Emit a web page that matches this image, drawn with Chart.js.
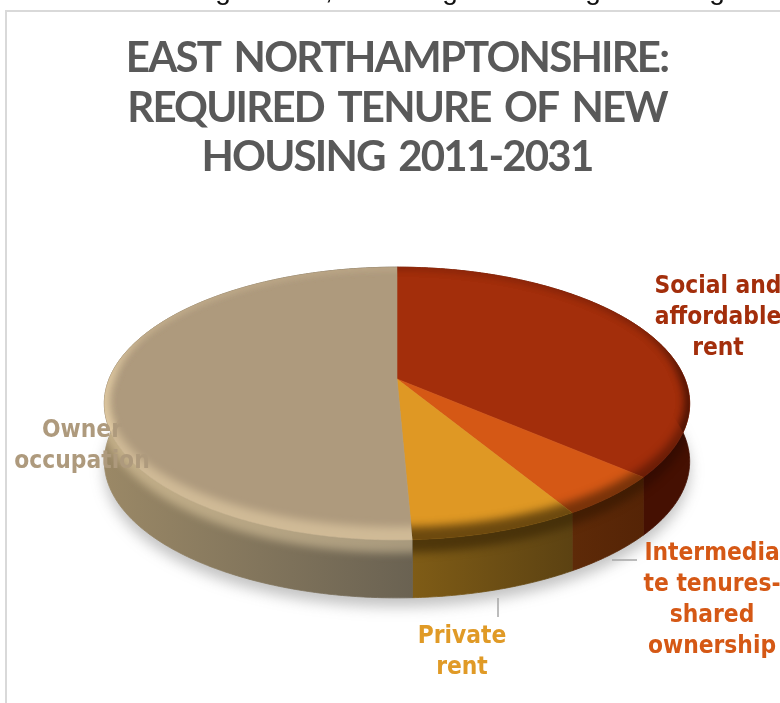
<!DOCTYPE html>
<html>
<head>
<meta charset="utf-8">
<style>
  html, body { margin: 0; padding: 0; background: #fff; overflow: hidden; }
  #wrap { position: relative; width: 780px; height: 703px; overflow: hidden; }
  #chart { position: absolute; left: 0; top: 0; }
  #frame { position: absolute; left: 5px; top: 10px; width: 800px; height: 720px;
           border-left: 2px solid #d9d9d9; border-top: 2px solid #d9d9d9; }
</style>
</head>
<body>
<div id="wrap">
  <canvas id="chart" width="780" height="703"></canvas>
  <div id="frame"></div>
</div>
<script src="https://cdn.jsdelivr.net/npm/chart.js@4"></script>
<script>
var titleLines = ['EAST NORTHAMPTONSHIRE:', 'REQUIRED TENURE OF NEW', 'HOUSING 2011-2031'];
var categories = ['Social and affordable rent', 'Intermediate tenures-shared ownership', 'Private rent', 'Owner occupation'];
var shares = [36.4, 5.0, 7.9, 50.7];
var sliceColors = ['#a32e0b', '#d55815', '#df9824', '#ae9a7d'];
var wallColors = [
    ['#5c1a06', '#451002'],
    ['#5e2a08', '#552406'],
    ['#7f5c16', '#5c4212'],
    ['#9a8866', '#6a6252']
];
var rimColors = ['rgba(30,5,0,0.42)', 'rgba(45,20,0,0.55)', 'rgba(60,40,5,0.7)', 'rgba(255,232,185,0.42)'];
var labelLines = [
    ['Social and', 'affordable', 'rent'],
    ['Intermedia', 'te tenures-', 'shared', 'ownership'],
    ['Private', 'rent'],
    ['Owner', 'occupation']
];
var labelCenters = [[718, 293], [712, 560], [462, 643], [82, 437]];
var labelColors = ['#a32e0b', '#d55815', '#e09a26', '#ae9a7d'];
var leaderLines = [[612, 560, 637, 560], [498, 598, 498, 617]];
// tail ends of the running text that sits above the chart frame
var pageGlyphs = ['g', ',', 'g', 'g', 'g'];
var pageGlyphX = [223, 329, 450, 593, 717];

// tilted disc: how the flat pie is stretched and foreshortened
var tilt = { xScale: 1.523, yScale: 0.698, perspective: 0.18, depth: 58 };

function project(arc, angle, r) {
    var u = Math.cos(angle) * r, v = Math.sin(angle) * r;
    var s = 1 / (1 - tilt.perspective * v);
    return {
        x: arc.x + arc.outerRadius * tilt.xScale * u * s,
        y: arc.y + arc.outerRadius * tilt.yScale * v * s
    };
}

function tracePath(ctx, arc, from, to, r, dy, first) {
    var steps = Math.max(2, Math.ceil(Math.abs(to - from) / 0.01));
    for (var i = 0; i <= steps; i++) {
        var p = project(arc, from + (to - from) * i / steps, r);
        if (i === 0 && first) ctx.moveTo(p.x, p.y + dy);
        else ctx.lineTo(p.x, p.y + dy);
    }
}

function discOutline(ctx, arc, r, dy) {
    ctx.beginPath();
    tracePath(ctx, arc, 0, Math.PI * 2, r, dy, true);
    ctx.closePath();
}

function sliceTop(ctx, arc) {
    var c = project(arc, 0, 0);
    ctx.beginPath();
    ctx.moveTo(c.x, c.y);
    tracePath(ctx, arc, arc.startAngle, arc.endAngle, 1, 0, false);
    ctx.closePath();
}

function sliceWall(ctx, arc) {
    ctx.beginPath();
    tracePath(ctx, arc, arc.startAngle, arc.endAngle, 1, 0, true);
    tracePath(ctx, arc, arc.endAngle, arc.startAngle, 1, tilt.depth, false);
    ctx.closePath();
}

// ring around the disc, nothing at the back and wide along the front edge
function rimBand(ctx, arc) {
    var i, a, p, t, steps = 630;
    ctx.beginPath();
    for (i = 0; i <= steps; i++) {
        a = i / steps * Math.PI * 2;
        p = project(arc, a, 1.02);
        ctx.lineTo(p.x, p.y + 9 * Math.max(Math.sin(a), 0));
    }
    ctx.closePath();
    for (i = steps; i >= 0; i--) {
        a = i / steps * Math.PI * 2;
        t = Math.min(Math.max((Math.sin(a) + 0.35) / 0.35, 0), 1);
        p = project(arc, a, 1 - 0.015 * t);
        ctx.lineTo(p.x, p.y - 10 * Math.max(Math.sin(a), 0));
    }
    ctx.closePath();
}

var pie3d = {
    id: 'pie3d',
    beforeDraw: function (chart) {
        // narrows the title lines and opens up the gaps between words
        chart.ctx.letterSpacing = '-1.8px';
        chart.ctx.wordSpacing = '5px';
    },
    // the arcs keep their angles and radius from the doughnut controller,
    // only the painting is replaced by the tilted version
    beforeDatasetDraw: function (chart, args) {
        var ctx = chart.ctx;
        var arcs = args.meta.data;
        var first = arcs[0];
        ctx.letterSpacing = '0px';
        ctx.wordSpacing = '0px';

        // soft shadow under the disc
        ctx.save();
        ctx.filter = 'blur(7px)';
        ctx.fillStyle = 'rgba(90,90,90,0.36)';
        discOutline(ctx, first, 1.0, tilt.depth + 9);
        ctx.fill();
        ctx.restore();

        // side wall, the thin stroke closes the seam between neighbours
        arcs.forEach(function (arc, i) {
            var a = project(arc, arc.startAngle, 1);
            var b = project(arc, arc.endAngle, 1);
            var g = ctx.createLinearGradient(Math.min(a.x, b.x), 0, Math.max(a.x, b.x), 0);
            if (i === arcs.length - 1) {
                g = ctx.createLinearGradient(b.x - 290, 0, a.x, 0);
            }
            g.addColorStop(0, wallColors[i][0]);
            g.addColorStop(1, wallColors[i][1]);
            ctx.fillStyle = g;
            ctx.strokeStyle = g;
            ctx.lineWidth = 0.8;
            sliceWall(ctx, arc);
            ctx.fill();
            ctx.stroke();
        });

        // top face
        arcs.forEach(function (arc) {
            ctx.fillStyle = arc.options.backgroundColor;
            ctx.strokeStyle = arc.options.backgroundColor;
            ctx.lineWidth = 0.6;
            sliceTop(ctx, arc);
            ctx.fill();
            ctx.stroke();
        });

        // bevel along the rim of each slice
        arcs.forEach(function (arc, i) {
            [sliceTop, sliceWall].forEach(function (shape) {
                ctx.save();
                shape(ctx, arc);
                ctx.clip();
                ctx.filter = 'blur(4px)';
                ctx.fillStyle = rimColors[i];
                rimBand(ctx, arc);
                ctx.fill();
                ctx.restore();
            });
        });

        return false;
    },
    afterDatasetsDraw: function (chart) {
        var ctx = chart.ctx;
        ctx.save();
        ctx.strokeStyle = '#a6a6a6';
        ctx.lineWidth = 1.5;
        leaderLines.forEach(function (l) {
            ctx.beginPath();
            ctx.moveTo(l[0], l[1]);
            ctx.lineTo(l[2], l[3]);
            ctx.stroke();
        });
        ctx.font = 'bold 24.3px "DejaVu Sans Condensed", "DejaVu Sans"';
        ctx.textAlign = 'center';
        ctx.textBaseline = 'alphabetic';
        labelLines.forEach(function (lines, i) {
            ctx.fillStyle = labelColors[i];
            lines.forEach(function (line, j) {
                ctx.fillText(line, labelCenters[i][0], labelCenters[i][1] + j * 31);
            });
        });
        ctx.fillStyle = '#111';
        ctx.font = '28px "Liberation Sans"';
        pageGlyphs.forEach(function (glyph, i) {
            ctx.fillText(glyph, pageGlyphX[i], -1);
        });
        ctx.restore();
    }
};

var myChart = new Chart(document.getElementById('chart').getContext('2d'), {
    type: 'pie',
    data: {
        labels: categories,
        datasets: [{
            data: shares,
            backgroundColor: sliceColors,
            borderWidth: 0
        }]
    },
    options: {
        responsive: false,
        animation: false,
        events: [],
        layout: { padding: { left: 34, right: 20, top: 0, bottom: 135 } },
        plugins: {
            legend: { display: false },
            tooltip: { enabled: false },
            title: {
                display: true,
                text: titleLines,
                color: '#595959',
                font: { family: 'Lato', size: 42, weight: 'bold', lineHeight: 1.19 },
                padding: { top: 33, bottom: 7 }
            }
        }
    },
    plugins: [pie3d]
});
</script>
</body>
</html>
